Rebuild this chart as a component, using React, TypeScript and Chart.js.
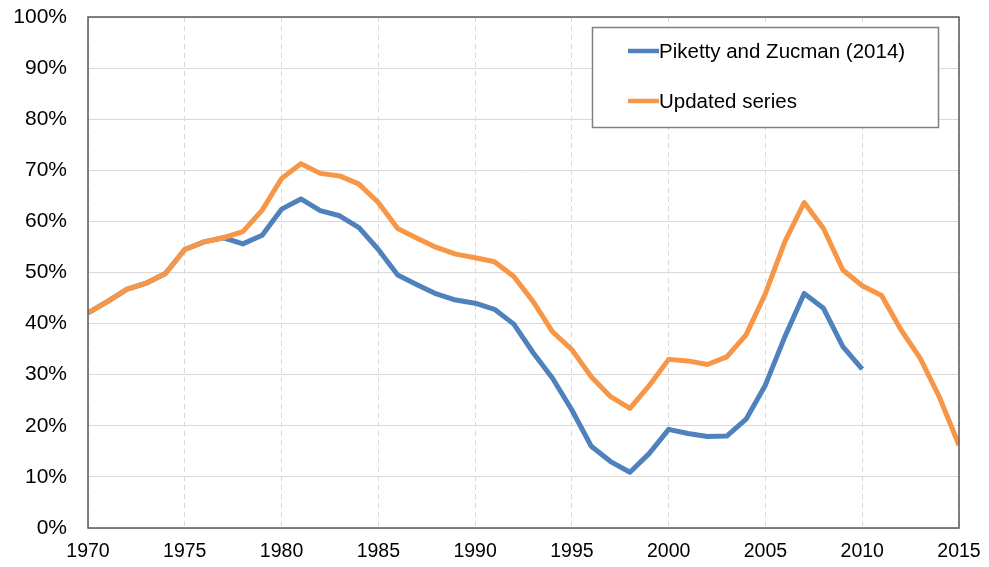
import React, { useEffect, useRef } from "react";
import { Chart, registerables } from "chart.js";

Chart.register(...registerables);

const years: number[] = [];
for (let y = 1970; y <= 2015; y++) years.push(y);

const pikettyZucman = [
  42.1, 44.3, 46.7, 47.9, 49.8, 54.5, 56.0, 56.8, 55.6, 57.3,
  62.4, 64.4, 62.1, 61.1, 58.8, 54.5, 49.5, 47.6, 45.8, 44.6,
  44.0, 42.8, 39.9, 34.3, 29.3, 23.1, 16.0, 13.0, 10.9, 14.6,
  19.3, 18.5, 17.9, 18.0, 21.3, 28.0, 37.4, 45.9, 43.0, 35.5,
  31.1,
];

const updatedSeries = [
  42.1, 44.3, 46.7, 47.9, 49.8, 54.5, 56.0, 56.8, 58.0, 62.2,
  68.4, 71.3, 69.4, 68.9, 67.3, 63.7, 58.6, 56.7, 54.9, 53.6,
  52.9, 52.1, 49.2, 44.3, 38.4, 34.9, 29.6, 25.7, 23.4, 27.9,
  33.0, 32.7, 32.0, 33.5, 37.8, 45.9, 56.0, 63.7, 58.6, 50.5,
  47.4, 45.5, 38.8, 33.2, 25.5, 16.2,
];

const seriesLabels = ["Piketty and Zucman (2014)", "Updated series"];
const seriesColors = ["#4F81BD", "#F79646"];
const yTicks = [0, 10, 20, 30, 40, 50, 60, 70, 80, 90, 100];

const FONT = "'Liberation Sans', Arial, sans-serif";

const boxPlugin = {
  id: "boxAndLegend",
  afterDatasetsDraw(chart: any) {
    const { ctx, chartArea } = chart;
    ctx.save();
    ctx.strokeStyle = "#595959";
    ctx.lineWidth = 1.5;
    ctx.strokeRect(chartArea.left, chartArea.top, chartArea.right - chartArea.left, chartArea.bottom - chartArea.top);
    ctx.restore();
  },
  afterDraw(chart: any) {
    const { ctx } = chart;
    ctx.save();
    const bx = 592.5, by = 27.5, bw = 346, bh = 100;
    ctx.fillStyle = "#ffffff";
    ctx.fillRect(bx, by, bw, bh);
    ctx.strokeStyle = "#808080";
    ctx.lineWidth = 1.5;
    ctx.strokeRect(bx, by, bw, bh);
    const rows = [51, 101];
    seriesLabels.forEach((lbl, i) => {
      ctx.strokeStyle = seriesColors[i];
      ctx.lineWidth = 4.5;
      ctx.beginPath();
      ctx.moveTo(628, rows[i]);
      ctx.lineTo(659, rows[i]);
      ctx.stroke();
      ctx.fillStyle = "#000000";
      ctx.font = `20.5px ${FONT}`;
      ctx.textBaseline = "middle";
      ctx.textAlign = "left";
      ctx.fillText(lbl, 659, rows[i] + 1);
    });
    ctx.restore();
  },
};

export default function App() {
  const ref = useRef<HTMLCanvasElement>(null);
  useEffect(() => {
    if (!ref.current) return;
    const chart = new Chart(ref.current, {
      type: "line",
      data: {
        datasets: [
          {
            label: seriesLabels[1],
            data: updatedSeries.map((v, i) => ({ x: years[i], y: v })),
            borderColor: seriesColors[1],
            backgroundColor: seriesColors[1],
            borderWidth: 5,
            pointRadius: 0,
            borderJoinStyle: "round",
            tension: 0,
          },
          {
            label: seriesLabels[0],
            data: pikettyZucman.map((v, i) => ({ x: years[i], y: v })),
            borderColor: seriesColors[0],
            backgroundColor: seriesColors[0],
            borderWidth: 5,
            pointRadius: 0,
            borderJoinStyle: "round",
            tension: 0,
          },
        ],
      },
      options: {
        animation: false,
        responsive: true,
        maintainAspectRatio: false,
        layout: { padding: { top: 17, right: 30, left: 0, bottom: 0 } },
        plugins: { legend: { display: false }, tooltip: { enabled: false } },
        scales: {
          x: {
            type: "linear",
            min: 1970,
            max: 2015,
            afterFit: (s: any) => {
              s.height = 39;
              s.paddingLeft = 0;
              s.paddingRight = 0;
            },
            afterBuildTicks: (s: any) => {
              s.ticks = years.filter((y) => y % 5 === 0).map((v) => ({ value: v }));
            },
            ticks: {
              stepSize: 5,
              color: "#000",
              font: { family: FONT, size: 19.5 },
              padding: 12,
              maxRotation: 0,
              callback: (v: any) => String(v),
            },
            grid: { color: "#d9d9d9", lineWidth: 1, drawTicks: false },
            border: { display: false, dash: [5, 4] },
          },
          y: {
            min: 0,
            max: 100,
            afterFit: (s: any) => {
              s.width = 88;
              s.paddingTop = 0;
              s.paddingBottom = 0;
            },
            afterBuildTicks: (s: any) => {
              s.ticks = yTicks.map((v) => ({ value: v }));
            },
            ticks: {
              stepSize: 10,
              color: "#000",
              font: { family: FONT, size: 21 },
              padding: 21,
              callback: (v: any) => v + "%",
            },
            grid: { color: "#d9d9d9", lineWidth: 1, drawTicks: false },
            border: { display: false },
          },
        },
      },
      plugins: [boxPlugin],
    });
    return () => chart.destroy();
  }, []);
  return (
    <div style={{ position: "absolute", left: 0, top: 0, width: 989, height: 567, background: "#fff" }}>
      <canvas ref={ref} />
    </div>
  );
}
